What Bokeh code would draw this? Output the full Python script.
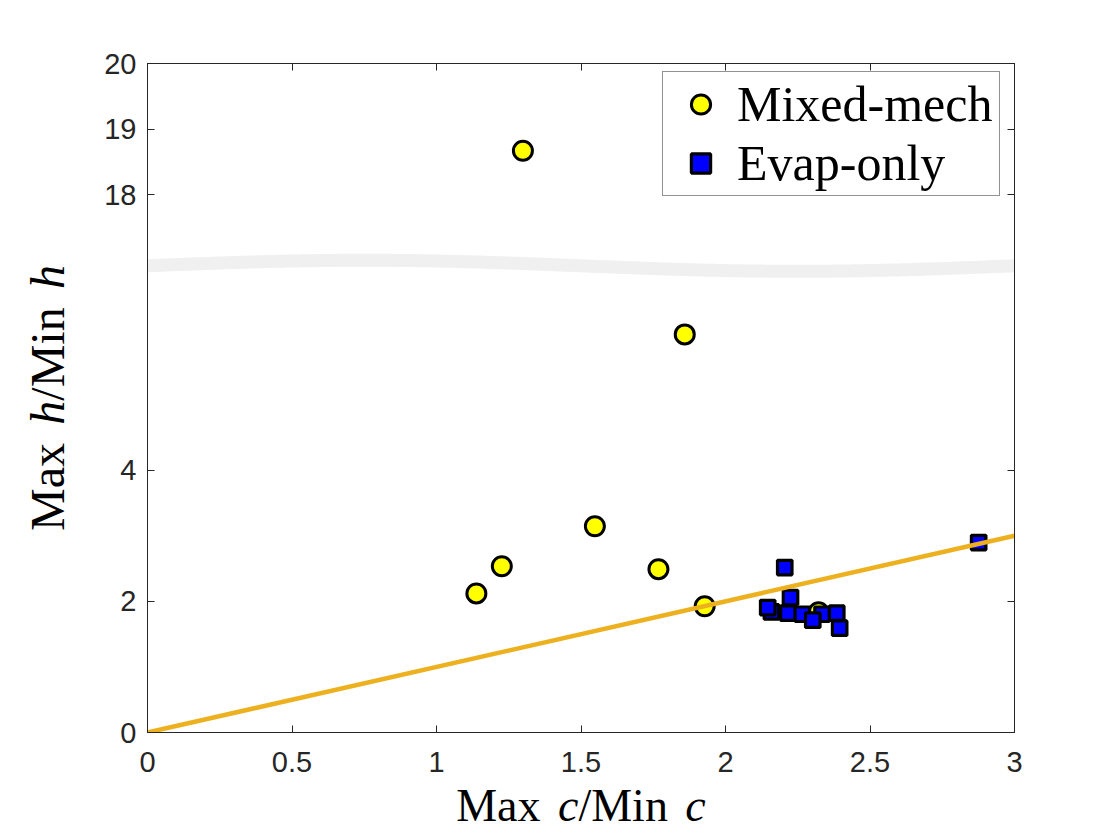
import numpy as np
from bokeh.plotting import figure
from bokeh.layouts import row, column
from bokeh.models import (Range1d, FixedTicker, CustomJSTickFormatter, LinearAxis,
                          Label, Legend, LegendItem, CustomLabelingPolicy)
from bokeh.embed import file_html
from bokeh.resources import INLINE

# ---------------- data ----------------
mixed_x = [1.138, 1.226, 1.299, 1.548, 1.768, 1.859, 1.928, 2.322]
mixed_y = [2.12, 2.535, 18.67, 3.145, 2.49, 6.07, 1.925, 1.834]

evap_x = [2.159, 2.146, 2.225, 2.216, 2.266, 2.334, 2.385, 2.302, 2.395, 2.205, 2.876]
evap_y = [1.838, 1.905, 2.058, 1.819, 1.803, 1.803, 1.819, 1.712, 1.59, 2.515, 2.896]

ref_x = [0, 3]          # y = x reference line
ref_y = [0, 3]

x_ticks = [0, 0.5, 1, 1.5, 2, 2.5, 3]
y_ticks_low = [0, 2, 4]
y_ticks_high = [18, 19, 20]

# broken-axis settings
BREAK_AT = 10.0      # values above this are shifted down
OFFSET = 9.8         # shift applied to upper values
Y_TOP = 20 - OFFSET
BAND_CENTER = 7.116
BAND_AMP = 0.084


def tr(v):
    return [y - OFFSET if y > BREAK_AT else y for y in v]


# ---------------- layout geometry ----------------
YLAB_W = 87
MAIN_W = 1017
FRAME_L, FRAME_W, FRAME_T, FRAME_H = 60, 867, 63, 669
MAIN_H = FRAME_T + FRAME_H + 52
XLAB_H = 40
TOTAL_H = MAIN_H + XLAB_H

p = figure(width=MAIN_W, height=MAIN_H, x_range=Range1d(0, 3), y_range=Range1d(0, Y_TOP),
           output_backend="svg", toolbar_location=None,
           min_border_left=FRAME_L, min_border_right=MAIN_W - FRAME_L - FRAME_W,
           min_border_top=FRAME_T, min_border_bottom=MAIN_H - FRAME_T - FRAME_H,
           background_fill_color="white", border_fill_color="white")
p.grid.visible = False
p.outline_line_color = "#262626"
p.outline_line_width = 1

AX = "#262626"
y_tick_pos = y_ticks_low + [t - OFFSET for t in y_ticks_high]

xfmt = CustomJSTickFormatter(code="return String(Math.round(tick*10)/10);")
yfmt = CustomJSTickFormatter(args=dict(brk=BAND_CENTER, off=OFFSET),
                             code="const v = tick > brk ? tick + off : tick; return String(Math.round(v));")
hide_all = CustomLabelingPolicy(code="for (const i of indices) { indices.unset(i) } return indices")


def style_axis(ax):
    ax.axis_line_color = AX
    ax.major_tick_line_color = AX
    ax.major_tick_in = 7
    ax.major_tick_out = 0
    ax.minor_tick_in = 0
    ax.minor_tick_out = 0
    ax.minor_tick_line_color = None
    ax.major_label_text_font = "Liberation Sans"
    ax.major_label_text_color = AX
    ax.major_label_text_font_size = "29px"


p.xaxis.ticker = FixedTicker(ticks=x_ticks)
p.xaxis.formatter = xfmt
style_axis(p.xaxis[0])
p.xaxis.major_label_standoff = 19

p.yaxis.ticker = FixedTicker(ticks=y_tick_pos)
p.yaxis.formatter = yfmt
style_axis(p.yaxis[0])
p.yaxis.major_label_standoff = 11

top_ax = LinearAxis(ticker=FixedTicker(ticks=x_ticks), formatter=xfmt, major_label_policy=hide_all)
style_axis(top_ax)
p.add_layout(top_ax, "above")
right_ax = LinearAxis(ticker=FixedTicker(ticks=y_tick_pos), formatter=yfmt, major_label_policy=hide_all)
style_axis(right_ax)
p.add_layout(right_ax, "right")

# ---------------- marks ----------------
r_mixed = p.scatter(mixed_x, tr(mixed_y), marker="circle", size=19,
                    fill_color="#ffff00", line_color="black", line_width=3)
r_evap = p.scatter(evap_x, tr(evap_y), marker="square", size=14.5,
                   fill_color="#0000ff", line_color="black", line_width=3.2)
p.line(ref_x, ref_y, line_color="#EDB120", line_width=4.5)

# axis-break band
bx = np.linspace(0, 3, 300)
by = BAND_CENTER + BAND_AMP * np.sin(2 * np.pi * bx / 3)
p.line(bx, by, line_color="#f0f0f0", line_width=13, line_cap="butt")

# ---------------- legend ----------------
legend = Legend(items=[LegendItem(label="Mixed-mech", renderers=[r_mixed]),
                       LegendItem(label="Evap-only", renderers=[r_evap])],
                location=(515, 536), orientation="vertical",
                padding=3, spacing=1, margin=0,
                glyph_width=69, glyph_height=48, label_standoff=2,
                label_width=259, label_height=55,
                label_text_font="Liberation Serif", label_text_font_size="50px",
                label_text_color="black",
                border_line_color=AX, border_line_width=1,
                background_fill_color="white", background_fill_alpha=1.0)
p.add_layout(legend)

# ---------------- axis titles (mixed roman / italic) ----------------
METRICS = {"Max": 1833, "/Min": 1945, "c": 444, "h": 500}
SP = 0.38 * 1000


def pieces(var, F):
    seq = [("Max", "normal", METRICS["Max"] + SP),
           (var, "italic", METRICS[var]),
           ("/Min", "normal", METRICS["/Min"] + SP),
           (var, "italic", METRICS[var])]
    out, pos = [], 0.0
    for t, s, w in seq:
        out.append((t, s, pos))
        pos += w
    total = pos * F / 1000
    return [(t, s, o * F / 1000) for t, s, o in out], total


def blank(w, h):
    f = figure(width=w, height=h, x_range=Range1d(0, 1), y_range=Range1d(0, 1),
               output_backend="svg", toolbar_location=None,
               x_axis_type=None, y_axis_type=None,
               min_border=0, min_border_left=0, min_border_right=0,
               min_border_top=0, min_border_bottom=0,
               background_fill_color="white", border_fill_color="white")
    f.grid.visible = False
    f.outline_line_color = None
    return f


# x title: its figure sits in a column with the main plot, so its frame is
# aligned with the main frame; centre the title on that frame.
FX = 46
xl = blank(MAIN_W, XLAB_H)
xp, xtot = pieces("c", FX)
x0 = FRAME_W / 2 - xtot / 2
for t, s, o in xp:
    xl.add_layout(Label(x=x0 + o, y=7 + 0.27 * FX, x_units="screen", y_units="screen",
                        text=t, text_font="Liberation Serif", text_font_size=f"{FX}px",
                        text_font_style=s, text_align="left", text_baseline="middle",
                        text_color="black"))

# y title: rotated, centred on the main frame's vertical centre
FY = 48
yl = blank(YLAB_W, TOTAL_H)
yp, ytot = pieces("h", FY)
y_centre = TOTAL_H - (FRAME_T + FRAME_H / 2)
y0 = y_centre - ytot / 2
for t, s, o in yp:
    yl.add_layout(Label(x=62 - 0.31 * FY, y=y0 + o, x_units="screen", y_units="screen", text=t,
                        angle=np.pi / 2, angle_units="rad",
                        text_font="Liberation Serif", text_font_size=f"{FY}px",
                        text_font_style=s, text_align="left", text_baseline="middle",
                        text_color="black"))

layout = row(yl, column(p, xl, spacing=0), spacing=0)

open("out.html", "w").write(file_html(layout, INLINE))
